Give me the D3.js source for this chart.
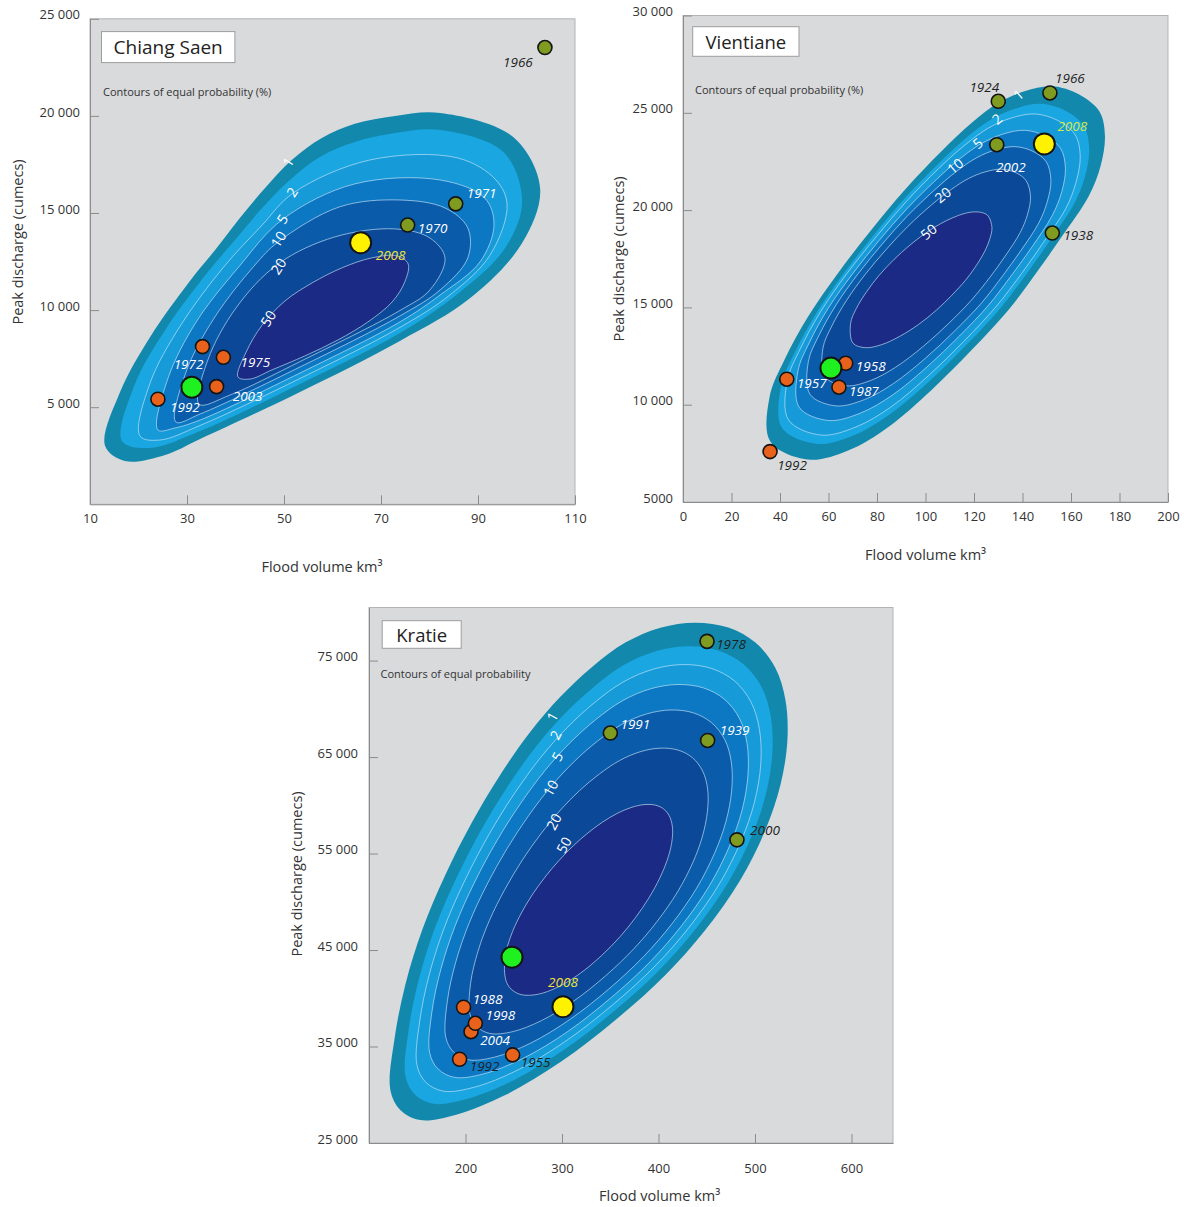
<!DOCTYPE html>
<html>
<head>
<meta charset="utf-8">
<script src="https://cdn.jsdelivr.net/npm/d3@7"></script>
<style>
  body { margin: 0; background: #ffffff; }
  svg text { font-family: "Open Sans", "Noto Sans", "DejaVu Sans", sans-serif; }
</style>
</head>
<body>
<svg id="chart" width="1187" height="1207"></svg>
<script>
// ---------------------------------------------------------------------------
// Joint flood volume / peak discharge probability, three Mekong stations.
// Contour shapes are given as [flood volume km³, peak discharge cumecs].
// ---------------------------------------------------------------------------

const probabilityLevels = ["1", "2", "5", "10", "20", "50"];

// ----- Chiang Saen ---------------------------------------------------------
const chiangSaenEdge = [[13.1,3010],[16.2,5780],[22.4,8620],[30.6,11500],[35.8,13100],[40.9,14740],[46.1,16290],[51.6,17730],[57.8,18860],[64.6,19590],[72.9,20000],[82.2,20150],[97.2,18920],[102.8,16290],[99.1,13460],[88.4,10620],[73.9,8410],[53.3,5780],[32.7,3360],[25.5,2540],[17.2,2230]];
const chiangSaenP1  = [[16.6,3260],[19.1,6090],[25.5,8980],[34.3,11960],[39.9,13610],[45.5,15260],[51.2,16700],[57.4,17890],[64.6,18660],[72.9,19120],[82.2,19280],[95.2,18150],[99.1,15620],[95.6,13200],[86.3,10930],[73.9,8820],[53.3,6200],[32.7,3770],[22.4,2900]];
const chiangSaenP2  = [[20.3,3520],[22.4,6250],[28.6,9180],[37.4,12170],[45.5,14380],[51.9,16030],[67.7,17730],[85.9,17830],[93.7,16700],[96.0,15410],[92.5,12840],[84.2,10780],[73.9,9110],[53.3,6480],[32.7,4060],[24.4,3310]];
const chiangSaenP5  = [[24.0,3830],[26.1,6500],[31.9,9390],[40.5,12170],[49.8,14690],[64.6,16500],[82.2,16700],[91.4,15770],[93.3,14380],[90.4,12480],[82.2,10780],[73.9,9390],[53.3,6760],[32.7,4340],[27.5,3930]];
const chiangSaenP10 = [[27.7,4240],[29.8,6810],[35.6,9590],[44.0,12320],[48.8,13510],[61.5,15320],[73.9,15670],[83.2,15260],[87.9,14230],[87.9,12690],[82.2,11040],[73.9,9700],[53.3,7070],[32.7,4650]];
const chiangSaenP20 = [[32.5,5150],[34.3,7430],[40.1,10110],[48.8,12380],[60.5,13770],[72.9,14180],[80.1,13710],[83.2,12680],[80.1,11040],[73.9,9980],[53.3,7350],[38.9,5630]];
const chiangSaenP50 = [[40.5,6560],[42.2,7840],[45.5,9230],[50.2,10470],[55.8,11400],[62.0,12180],[68.1,12690],[73.3,12790],[75.6,12380],[74.9,11450],[72.3,10420],[67.3,9390],[61.1,8460],[54.3,7640],[47.5,6920],[43.0,6450]];
const chiangSaenLevelAt = [[50.8,17630],[51.6,16090],[49.6,14690],[48.8,13660],[48.8,12270],[46.7,9580]];

const chiangSaenYears  = ["1966","1971","1970","2008","1972","1975","","2003","1992"];
const chiangSaenVolume = [103.8, 85.4, 75.5, 65.8, 33.2, 37.5, 31.0, 36.1, 24.0];
const chiangSaenPeak   = [23520, 15470, 14380, 13470, 8120, 7570, 6030, 6060, 5410];
const chiangSaenGroup  = ["high","high","high","current","low","low","mean","low","low"];
const chiangSaenVolumeTicks = [10, 30, 50, 70, 90, 110];
const chiangSaenPeakTicks   = [5000, 10000, 15000, 20000, 25000];

// ----- Vientiane -----------------------------------------------------------
const vientianeEdge = [[36.0,8110],[35.7,10400],[41.8,12300],[51.6,14530],[63.9,16760],[77.8,19000],[91.6,21060],[106.7,23040],[119.2,24500],[130.1,25520],[141.1,26120],[152.2,26360],[163.2,25950],[171.8,25050],[174.0,23810],[172.2,22270],[167.3,20710],[156.3,18650],[146.6,16930],[134.2,14870],[119.1,12820],[102.5,10760],[84.7,8860],[68.1,7650],[51.6,7180]];
const vientianeP1  = [[40.8,8810],[40.4,10930],[46.0,12670],[55.0,14710],[66.3,16750],[79.1,18790],[91.8,20660],[105.8,22450],[117.3,23770],[127.5,24700],[137.6,25240],[147.7,25460],[157.7,25100],[165.4,24300],[167.5,23150],[165.8,21740],[161.3,20320],[151.3,18430],[142.4,16850],[131.0,14970],[117.1,13100],[101.8,11230],[85.3,9510],[70.0,8410],[54.9,7990]];
const vientianeP2  = [[43.5,9220],[43.0,11230],[48.4,12880],[56.9,14810],[67.6,16740],[79.9,18660],[92.0,20430],[105.3,22120],[116.3,23350],[126.0,24220],[135.6,24740],[145.2,24940],[154.5,24610],[161.7,23870],[163.8,22770],[162.1,21440],[157.9,20090],[148.4,18300],[140.0,16810],[129.1,15040],[115.9,13270],[101.3,11500],[85.7,9880],[71.2,8850],[56.8,8440]];
const vientianeP5  = [[47.9,9870],[47.4,11730],[52.2,13220],[60.0,14980],[69.9,16720],[81.0,18460],[92.2,20050],[104.5,21570],[114.6,22680],[123.5,23450],[132.3,23920],[141.0,24100],[149.4,23810],[155.7,23170],[157.7,22160],[156.2,20950],[152.3,19730],[143.8,18090],[136.0,16740],[126.1,15130],[114.0,13530],[100.6,11940],[86.2,10480],[73.0,9560],[59.9,9190]];
const vientianeP10 = [[52.4,10530],[51.7,12220],[56.1,13570],[63.2,15140],[72.1,16710],[82.2,18260],[92.4,19680],[103.6,21020],[112.9,22000],[121.1,22690],[129.0,23100],[136.9,23260],[144.3,23020],[149.8,22480],[151.7,21550],[150.3,20470],[146.8,19360],[139.1,17880],[132.1,16670],[123.1,15230],[112.1,13800],[99.9,12380],[86.8,11090],[74.8,10260],[63.0,9940]];
const vientianeP20 = [[58.5,11440],[57.7,12900],[61.4,14050],[67.5,15370],[75.1,16690],[83.9,17990],[92.7,19160],[102.5,20270],[110.6,21060],[117.7,21620],[124.5,21960],[131.1,22100],[137.3,21920],[141.5,21510],[143.3,20700],[142.1,19790],[139.1,18860],[132.6,17590],[126.7,16570],[118.9,15370],[109.5,14170],[99.0,12990],[87.6,11920],[77.3,11240],[67.2,10970]];
const vientianeP50 = [[70.1,13160],[69.1,14180],[71.5,14950],[75.7,15800],[80.9,16650],[87.0,17460],[93.3,18170],[100.3,18840],[106.2,19300],[111.3,19610],[115.9,19820],[120.3,19910],[123.9,19850],[125.9,19690],[127.4,19110],[126.5,18510],[124.5,17900],[120.4,17050],[116.4,16380],[110.9,15630],[104.5,14860],[97.2,14130],[89.2,13500],[82.0,13090],[75.3,12930]];
const vientianeLevelAt = [[138.3,25940],[129.4,24690],[121.5,23450],[112.2,22280],[107.1,20790],[101.2,18900]];

const vientianeYears  = ["1924","1966","2002","2008","1938","1958","","1957","1987","1992"];
const vientianeVolume = [130.0, 151.3, 129.4, 149.0, 152.3, 67.1, 61.0, 42.8, 64.3, 35.9];
const vientianePeak   = [25590, 26020, 23360, 23400, 18820, 12130, 11880, 11310, 10900, 7590];
const vientianeGroup  = ["high","high","high","current","high","low","mean","low","low","low"];
const vientianeVolumeTicks = [0, 20, 40, 60, 80, 100, 120, 140, 160, 180, 200];
const vientianePeakTicks   = [5000, 10000, 15000, 20000, 25000, 30000];

// ----- Kratie --------------------------------------------------------------
const kratieEdge = [[122.1,30500],[126.3,35690],[137.6,41380],[155.2,47090],[179.2,52800],[207.0,58290],[236.1,63170],[267.2,67620],[298.3,71250],[331.5,74370],[365.6,76860],[402.0,78410],[438.3,78930],[472.4,78420],[500.4,76860],[521.0,74260],[531.5,70940],[533.6,66800],[526.4,62130],[510.8,57460],[484.8,52270],[448.5,47080],[407.1,42420],[355.4,37750],[298.4,33390],[241.2,29970],[189.4,27910],[153.2,27380],[132.4,28420]];
const kratieP1  = [[137.7,31980],[141.2,36800],[151.8,42030],[168.3,47280],[190.8,52510],[216.8,57550],[244.0,62010],[273.1,66090],[302.0,69410],[332.9,72270],[364.5,74560],[398.0,75990],[431.3,76480],[462.6,76020],[488.1,74620],[506.9,72240],[516.3,69200],[518.0,65400],[511.1,61110],[496.6,56810],[472.5,52040],[439.1,47250],[401.0,42930],[353.5,38620],[301.0,34580],[248.4,31430],[200.5,29530],[166.8,29070],[147.3,30050]];
const kratieP2  = [[149.6,33120],[152.6,37650],[162.7,42540],[178.4,47420],[199.7,52290],[224.3,56970],[250.1,61130],[277.6,64920],[304.9,68000],[333.9,70660],[363.6,72790],[395.0,74120],[426.0,74590],[455.0,74180],[478.7,72890],[495.9,70690],[504.6,67860],[506.0,64320],[499.4,60320],[485.6,56310],[463.1,51860],[431.9,47380],[396.3,43330],[352.0,39280],[303.0,35500],[253.8,32550],[209.0,30780],[177.2,30370],[158.8,31300]];
const kratieP5  = [[162.8,34380],[165.2,38590],[174.7,43090],[189.5,47570],[209.5,52050],[232.6,56340],[256.8,60150],[282.5,63620],[308.0,66450],[335.1,68890],[362.7,70840],[391.6,72070],[420.1,72520],[446.8,72160],[468.3,70990],[484.0,68980],[491.8,66380],[492.7,63140],[486.5,59460],[473.6,55770],[452.7,51660],[423.9,47520],[391.2,43770],[350.4,40020],[305.3,36510],[259.8,33780],[218.3,32150],[188.7,31800],[171.5,32680]];
const kratieP10 = [[179.5,35980],[181.3,39780],[190.0,43790],[203.7,47770],[222.0,51740],[243.2,55540],[265.3,58910],[288.8,61970],[312.0,64470],[336.5,66630],[361.5,68360],[387.4,69460],[412.7,69880],[436.2,69580],[455.0,68560],[468.7,66800],[475.4,64500],[475.9,61630],[470.0,58360],[458.3,55080],[439.5,51410],[413.7,47690],[384.6,44330],[348.4,40950],[308.1,37800],[267.5,35350],[230.2,33900],[203.3,33620],[187.6,34430]];
const kratieP20 = [[204.6,38380],[205.3,41570],[212.9,44850],[224.8,48070],[240.7,51270],[259.0,54340],[278.1,57040],[298.3,59500],[318.0,61510],[338.7,63240],[359.7,64640],[381.0,65550],[401.5,65920],[420.4,65720],[435.2,64930],[445.8,63540],[450.9,61690],[450.7,59370],[445.3,56710],[435.4,54030],[419.7,51020],[398.5,47960],[374.8,45170],[345.3,42340],[312.4,39730],[279.0,37700],[248.1,36520],[225.2,36350],[211.7,37070]];
const kratieP50 = [[241.7,41910],[240.9,44220],[246.8,46400],[256.1,48500],[268.3,50590],[282.4,52560],[297.0,54290],[312.2,55850],[326.8,57130],[341.9,58250],[357.0,59150],[371.6,59770],[385.0,60070],[397.0,60010],[405.9,59570],[412.0,58730],[414.6,57530],[413.5,56020],[408.9,54280],[401.5,52500],[390.4,50460],[376.1,48350],[360.3,46400],[340.8,44410],[318.7,42570],[296.0,41170],[274.4,40400],[257.5,40380],[247.3,40950]];
const kratieLevelAt = [[289.6,69210],[293.1,67310],[294.8,65060],[287.9,61810],[291.3,58320],[301.7,55900]];

const kratieYears  = ["1978","1991","1939","2000","","2008","1988","2004","1998","1992","1955"];
const kratieVolume = [450.3, 350.1, 450.9, 481.3, 248.2, 301.0, 198.0, 205.7, 210.2, 193.9, 248.8];
const kratiePeak   = [76990, 67490, 66720, 56420, 44260, 39130, 39070, 36540, 37410, 33680, 34130];
const kratieGroup  = ["high","high","high","high","mean","current","low","low","low","low","low"];
const kratieVolumeTicks = [200, 300, 400, 500, 600];
const kratiePeakTicks   = [25000, 35000, 45000, 55000, 65000, 75000];

// ---------------------------------------------------------------------------
// Styling
// ---------------------------------------------------------------------------
const bandFill = ["#1289ac", "#1aa6e0", "#169ad8", "#0c78c4", "#0a5caa", "#0b4898", "#1b2a84"];
const plotFill = "#d8dadc";
const pointStyle = {
  high:    { fill: "#7f9b20", r: 7 },
  low:     { fill: "#e8621c", r: 7 },
  current: { fill: "#fff200", r: 10.5 },
  mean:    { fill: "#1ff01f", r: 10.5 }
};
const tagColour = { light: "#ffffff", dark: "#1f1f1f", gold: "#efe43a", lime: "#d4e94a" };

const spaced = d3.formatLocale({ decimal: ".", thousands: " ", grouping: [3], currency: ["", ""] }).format(",");

const panels = [
  {
    name: "Chiang Saen",
    contours: [chiangSaenEdge, chiangSaenP1, chiangSaenP2, chiangSaenP5, chiangSaenP10, chiangSaenP20, chiangSaenP50],
    levelAt: chiangSaenLevelAt,
    years: chiangSaenYears, volume: chiangSaenVolume, peak: chiangSaenPeak, group: chiangSaenGroup,
    xTicks: chiangSaenVolumeTicks, yTicks: chiangSaenPeakTicks,
    xDomain: [10, 110], yDomain: [0, 25000],
    xRange: [90, 575], yRange: [504.3, 18.8],
    yFormat: spaced,
    xPad: 9, yPad: 10, labelAngle: -57,
    box: { x: 101.5, y: 31.6, w: 133.4, h: 31, size: 19 },
    note: { text: "Contours of equal probability (%)", x: 103, y: 91 },
    yTitle: [17, 242], xTitle: [322, 566],
    tags: {
      "1966": [-27, 14, "dark"], "1971": [26, -11, "light"], "1970": [25, 3, "light"],
      "2008": [30, 12, "gold"], "1972": [-14, 17, "light"], "1975": [32, 5, "light"],
      "2003": [31, 9, "light"], "1992": [27, 8, "light"]
    }
  },
  {
    name: "Vientiane",
    contours: [vientianeEdge, vientianeP1, vientianeP2, vientianeP5, vientianeP10, vientianeP20, vientianeP50],
    levelAt: vientianeLevelAt,
    years: vientianeYears, volume: vientianeVolume, peak: vientianePeak, group: vientianeGroup,
    xTicks: vientianeVolumeTicks, yTicks: vientianePeakTicks,
    xDomain: [0, 200], yDomain: [5000, 30000],
    xRange: [683, 1168], yRange: [502, 15.5],
    yFormat: d => d < 10000 ? d3.format("d")(d) : spaced(d),
    xPad: 10, yPad: 10, labelAngle: -40,
    box: { x: 692.7, y: 26.7, w: 106.3, h: 29.6, size: 18.5 },
    note: { text: "Contours of equal probability (%)", x: 695, y: 89 },
    yTitle: [618.5, 259], xTitle: [925.6, 554],
    tags: {
      "1924": [-14, -14, "dark"], "1966": [20, -15, "dark"], "2008": [28, -18, "lime"],
      "2002": [14, 22, "light"], "1938": [26, 2, "dark"], "1958": [25, 3, "light"],
      "1957": [25, 4, "light"], "1987": [25, 4, "light"], "1992": [22, 13, "dark"]
    }
  },
  {
    name: "Kratie",
    contours: [kratieEdge, kratieP1, kratieP2, kratieP5, kratieP10, kratieP20, kratieP50],
    levelAt: kratieLevelAt,
    years: kratieYears, volume: kratieVolume, peak: kratiePeak, group: kratieGroup,
    xTicks: kratieVolumeTicks, yTicks: kratiePeakTicks,
    xDomain: [100, 643], yDomain: [25000, 80500],
    xRange: [369, 893], yRange: [1143, 607.5],
    yFormat: spaced,
    xPad: 21, yPad: 11, labelAngle: -62,
    box: { x: 382.2, y: 620.7, w: 79, h: 27.6, size: 18.5 },
    note: { text: "Contours of equal probability", x: 380.5, y: 673 },
    yTitle: [296, 874], xTitle: [659.7, 1195],
    tags: {
      "1978": [24, 3, "dark"], "1991": [25, -9, "light"], "1939": [27, -10, "light"],
      "2000": [28, -10, "dark"], "2008": [0, -25, "gold"], "1988": [24, -8.5, "light"],
      "1998": [25, -8.5, "light"], "2004": [24, 8, "light"], "1992": [25, 7, "dark"],
      "1955": [23, 7, "dark"]
    }
  }
];

const svg = d3.select("#chart");

panels.forEach(p => {
  const g = svg.append("g").attr("class", "panel");
  const x = d3.scaleLinear().domain(p.xDomain).range(p.xRange);
  const y = d3.scaleLinear().domain(p.yDomain).range(p.yRange);
  const left = p.xRange[0], right = p.xRange[1], top = p.yRange[1], bottom = p.yRange[0];

  // plot background
  g.append("rect")
    .attr("x", left).attr("y", top)
    .attr("width", right - left).attr("height", bottom - top)
    .attr("fill", plotFill);

  // probability bands, outermost first
  const shape = d3.line()
    .x(d => x(d[0])).y(d => y(d[1]))
    .curve(d3.curveCatmullRomClosed.alpha(0.5));

  g.selectAll("path.band")
    .data(p.contours)
    .join("path")
    .attr("class", "band")
    .attr("d", shape)
    .attr("fill", (d, i) => bandFill[i]);

  // thin contour lines inside the cyan/blue bands
  g.selectAll("path.iso")
    .data(p.contours.slice(2))
    .join("path")
    .attr("class", "iso")
    .attr("d", shape)
    .attr("fill", "none")
    .attr("stroke", "#cfe9fb")
    .attr("stroke-opacity", 0.7)
    .attr("stroke-width", 0.9);

  // contour level labels
  g.selectAll("text.level")
    .data(probabilityLevels)
    .join("text")
    .attr("class", "level")
    .attr("transform", (d, i) => `translate(${x(p.levelAt[i][0])},${y(p.levelAt[i][1])}) rotate(${p.labelAngle})`)
    .attr("text-anchor", "middle")
    .attr("dominant-baseline", "central")
    .attr("fill", "#ffffff")
    .attr("font-size", 14)
    .text(d => d);

  // frame
  g.append("rect")
    .attr("x", left).attr("y", top)
    .attr("width", right - left).attr("height", bottom - top)
    .attr("fill", "none")
    .attr("stroke", "#b3b4b6")
    .attr("stroke-width", 1);

  // axes with inward ticks
  const xAxis = d3.axisBottom(x)
    .tickValues(p.xTicks)
    .tickSizeInner(-9).tickSizeOuter(0)
    .tickPadding(p.xPad)
    .tickFormat(d3.format("d"));
  const yAxis = d3.axisLeft(y)
    .tickValues(p.yTicks)
    .tickSizeInner(-9).tickSizeOuter(0)
    .tickPadding(p.yPad)
    .tickFormat(p.yFormat);

  const gx = g.append("g").attr("transform", `translate(0,${bottom})`).call(xAxis);
  const gy = g.append("g").attr("transform", `translate(${left},0)`).call(yAxis);
  [gx, gy].forEach(a => {
    a.select(".domain").attr("stroke", "#8c8c8c");
    a.selectAll(".tick line").attr("stroke", "#8c8c8c");
    a.selectAll(".tick text").attr("fill", "#333").attr("font-size", 13);
  });
  gy.selectAll(".tick text").attr("transform", "translate(0,-4)");

  // axis titles
  g.append("text")
    .attr("transform", `translate(${p.yTitle[0]},${p.yTitle[1]}) rotate(-90)`)
    .attr("text-anchor", "middle").attr("dominant-baseline", "central")
    .attr("font-size", 14.5).attr("fill", "#333")
    .text("Peak discharge (cumecs)");
  g.append("text")
    .attr("x", p.xTitle[0]).attr("y", p.xTitle[1])
    .attr("text-anchor", "middle").attr("dominant-baseline", "central")
    .attr("font-size", 14.5).attr("fill", "#333")
    .text("Flood volume km³");

  // station name box and note
  g.append("rect")
    .attr("x", p.box.x).attr("y", p.box.y)
    .attr("width", p.box.w).attr("height", p.box.h)
    .attr("fill", "#ffffff").attr("stroke", "#9d9d9d").attr("stroke-width", 1);
  g.append("text")
    .attr("x", p.box.x + p.box.w / 2).attr("y", p.box.y + p.box.h / 2)
    .attr("text-anchor", "middle").attr("dominant-baseline", "central")
    .attr("font-size", p.box.size).attr("fill", "#222")
    .text(p.name);
  g.append("text")
    .attr("x", p.note.x).attr("y", p.note.y)
    .attr("dominant-baseline", "central")
    .attr("font-size", 11).attr("fill", "#333")
    .text(p.note.text);

  // flood years
  const pts = p.years.map((yr, i) => ({ yr, v: p.volume[i], q: p.peak[i], grp: p.group[i] }));
  g.selectAll("circle.year")
    .data(pts)
    .join("circle")
    .attr("class", "year")
    .attr("cx", d => x(d.v)).attr("cy", d => y(d.q))
    .attr("r", d => pointStyle[d.grp].r)
    .attr("fill", d => pointStyle[d.grp].fill)
    .attr("stroke", "#141414")
    .attr("stroke-width", d => pointStyle[d.grp].r > 8 ? 2 : 1.6);

  g.selectAll("text.year")
    .data(pts.filter(d => d.yr && p.tags[d.yr]))
    .join("text")
    .attr("class", "year")
    .attr("x", d => x(d.v) + p.tags[d.yr][0])
    .attr("y", d => y(d.q) + p.tags[d.yr][1])
    .attr("text-anchor", "middle").attr("dominant-baseline", "central")
    .attr("font-size", 13.5).attr("font-style", "italic")
    .attr("fill", d => tagColour[p.tags[d.yr][2]])
    .text(d => d.yr);
});
</script>
</body>
</html>
